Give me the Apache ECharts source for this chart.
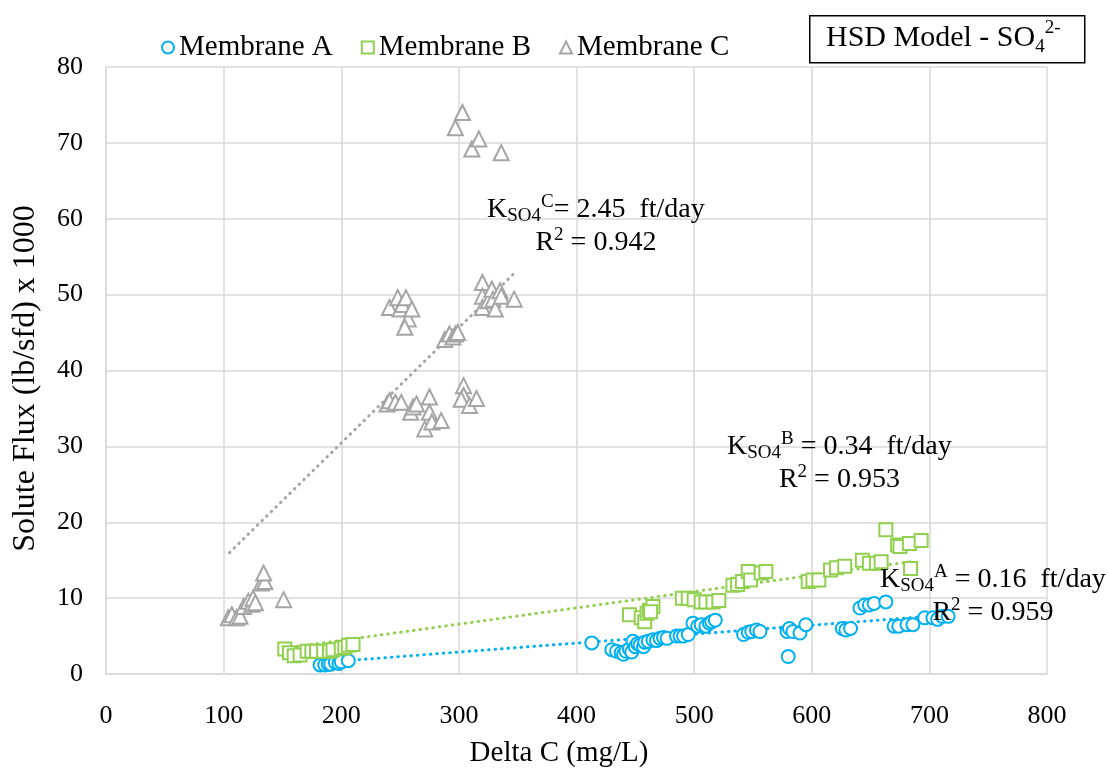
<!DOCTYPE html>
<html>
<head>
<meta charset="utf-8">
<script src="https://cdn.jsdelivr.net/npm/echarts@6/dist/echarts.min.js"></script>
<style>html,body{margin:0;padding:0;background:#fff;}#c{width:1108px;height:773px;}</style>
</head>
<body>
<div id="c"></div>
<script>
// ---- data ----
var xTicks = [0,100,200,300,400,500,600,700,800];
var yTicks = [0,10,20,30,40,50,60,70,80];
var membraneA_x = [182,186,189,191,195,198,200,206,
  413,430,434,438,440,442,445,447,448,450,452,454,457,458,461,465,468,471,474,477,485,488,491,495,499,503,506,510,513,515,518,
  542,546,549,553,556,579,581,584,590,595,580,626,629,633,641,645,649,653,663,670,674,681,686,696,703,707,711,716];
var membraneA_y = [1.2,1.2,1.3,1.3,1.5,1.4,1.6,1.75,
  4.1,3.2,3.0,2.8,2.6,3.0,3.3,2.9,4.3,3.6,4.0,3.8,3.6,4.2,4.3,4.5,4.4,4.7,4.8,4.7,5.0,5.0,5.0,5.2,6.7,6.3,6.5,6.3,6.7,6.9,7.1,
  5.2,5.5,5.6,5.8,5.6,5.6,6.0,5.6,5.4,6.5,2.3,6.0,5.8,6.0,8.7,9.1,9.1,9.3,9.5,6.3,6.3,6.5,6.5,7.4,7.4,7.2,7.6,7.6];
var membraneB_x = [152,156,160,165,171,175,179,185,190,193,200,203,206,210,
  445,455,458,460,462,465,463,
  490,495,500,506,510,516,521,
  533,537,541,546,548,557,561,
  597,601,606,616,621,628,643,649,655,659,663,673,675,683,693,684];
var membraneB_y = [3.3,2.8,2.4,2.5,3.0,3.0,3.0,3.0,3.0,3.2,3.4,3.5,3.8,3.9,
  7.8,7.4,6.9,8.0,8.4,8.9,8.2,
  10.0,10.0,9.8,9.5,9.5,9.5,9.7,
  11.7,11.8,12.2,13.5,12.4,13.3,13.5,
  12.2,12.4,12.4,13.7,14.0,14.2,15.0,14.6,14.6,14.8,19.0,17.0,16.8,17.2,17.6,13.9];
var membraneC_x = [104,107,111,114,117,121,124,125,127,132,135,134,151,
  239,241,246,251,259,261,264,271,275,275,277,285,304,304,302,309,315,
  288,292,295,297,299,
  241,248,250,252,255,257,254,260,
  320,320,320,325,328,329,331,335,336,347,
  297,303,311,317,336];
var membraneC_y = [7.4,7.8,7.4,7.6,8.9,9.6,9.2,10.0,9.4,12.0,12.2,13.3,9.8,
  35.6,36.0,35.8,35.8,34.5,35.2,35.6,32.3,36.5,34.5,33.2,33.4,38.0,36.7,36.2,35.4,36.3,
  44.1,44.8,44.4,44.8,45.0,
  48.3,49.6,48.1,48.7,49.6,46.8,45.7,48.1,
  51.6,49.8,48.3,49.2,50.7,49.4,48.1,50.5,49.8,49.4,
  72.0,74.0,69.2,70.5,68.7];
// trendline end points
var trendA_x = [182, 716], trendA_y = [1.5, 7.8];
var trendB_x = [152, 684], trendB_y = [3.4, 14.8];
var trendC_x = [105, 347], trendC_y = [16.0, 52.8];
var seriesNames = ['Membrane A','Membrane B','Membrane C'];
var colors = ['#00B0F0','#92D050','#A5A5A5'];

function zip(xs, ys){ return xs.map(function(x,i){return [x, ys[i]];}); }

var FONT = 'Liberation Serif';
var chart = echarts.init(document.getElementById('c'));

function scatter(name, xs, ys, symbol, size, color){
  return {name:name, type:'scatter', data:zip(xs,ys), symbol:symbol, symbolSize:size,
    itemStyle:{color:'#fff', borderColor:color, borderWidth:2, opacity:1}, z:3, animation:false};
}
function trend(xs, ys, color){
  return {type:'line', data:zip(xs,ys), symbol:'none', silent:true, z:2,
    lineStyle:{color:color, width:3, type:[0.5,6], cap:'round'}, animation:false};
}

var kRich = {
  k:{fontFamily:FONT, fontSize:28, color:'#000', lineHeight:33, verticalAlign:'middle'},
  sub:{fontFamily:FONT, fontSize:19, color:'#000', lineHeight:33, verticalAlign:'bottom'},
  sup:{fontFamily:FONT, fontSize:19, color:'#000', lineHeight:19, verticalAlign:'top'}
};

function annot(x, y, letter, val, r2){
  return {type:'text', left:x, top:y, z:10,
    style:{text:'{k|K}{sub|SO4}{sup|' + letter + '}{k|' + val + '}\n{k|R}{sup|2}{k| = ' + r2 + '}',
      rich:kRich, textAlign:'center', align:'center'}};
}

chart.setOption({
  backgroundColor:'#fff',
  animation:false,
  color:colors,
  grid:{left:106, right:61, top:67, bottom:97, containLabel:false},
  legend:{
    data:seriesNames, left:156, top:28, itemWidth:12, itemHeight:12, itemGap:28,
    textStyle:{fontFamily:FONT, fontSize:29, color:'#000'}
  },
  xAxis:{type:'value', min:0, max:800, interval:100,
    name:'Delta C (mg/L)', nameLocation:'middle', nameGap:65,
    nameTextStyle:{fontFamily:FONT, fontSize:29, color:'#000', padding:[0,35,0,0]},
    axisLine:{show:true, lineStyle:{color:'#D9D9D9', width:1.5}},
    axisTick:{show:false},
    axisLabel:{fontFamily:FONT, fontSize:26, color:'#000', margin:29},
    splitLine:{show:true, lineStyle:{color:'#D9D9D9', width:1.5}}
  },
  yAxis:{type:'value', min:0, max:80, interval:10,
    name:'Solute Flux (lb/sfd) x 1000', nameLocation:'middle', nameGap:64,
    nameTextStyle:{fontFamily:FONT, fontSize:32, color:'#000', padding:[0,16,0,0]},
    axisLine:{show:true, lineStyle:{color:'#D9D9D9', width:1.5}},
    axisTick:{show:false},
    axisLabel:{fontFamily:FONT, fontSize:26, color:'#000', margin:23},
    splitLine:{show:true, lineStyle:{color:'#D9D9D9', width:1.5}}
  },
  series:[
    trend(trendA_x, trendA_y, colors[0]),
    trend(trendB_x, trendB_y, colors[1]),
    trend(trendC_x, trendC_y, colors[2]),
    scatter(seriesNames[0], membraneA_x, membraneA_y, 'circle', 13, colors[0]),
    scatter(seriesNames[1], membraneB_x, membraneB_y, 'rect', 13, colors[1]),
    scatter(seriesNames[2], membraneC_x, membraneC_y, 'triangle', 15, colors[2])
  ],
  graphic:[
    {type:'rect', left:809, top:15, z:10, shape:{width:275, height:47},
      style:{fill:'#fff', stroke:'#000', lineWidth:1.5}},
    {type:'text', left:826, top:19, z:11,
      style:{text:'{t|HSD Model - SO}{sub|4}{sup|2-}',
        rich:{t:{fontFamily:FONT, fontSize:30, color:'#000', lineHeight:38, verticalAlign:'middle'},
              sub:{fontFamily:FONT, fontSize:19, color:'#000', lineHeight:38, verticalAlign:'bottom'},
              sup:{fontFamily:FONT, fontSize:19, color:'#000', lineHeight:19, verticalAlign:'top'}}}},
    annot(487, 193, 'C', '= 2.45  ft/day', '0.942'),
    annot(727, 430, 'B', ' = 0.34  ft/day', '0.953'),
    annot(880, 563, 'A', ' = 0.16  ft/day', '0.959')
  ]
});
</script>
</body>
</html>
